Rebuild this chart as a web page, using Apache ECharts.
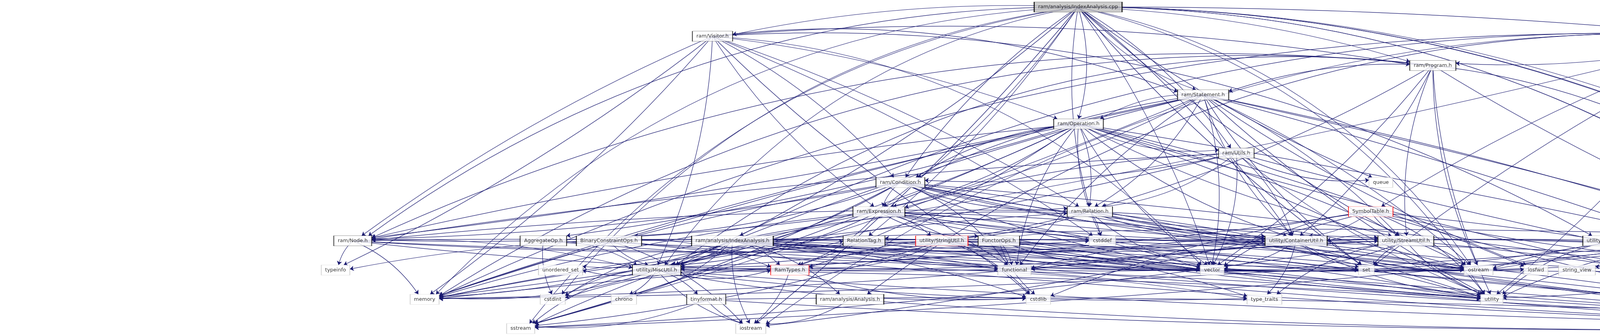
<!DOCTYPE html>
<html>
<head>
<meta charset="utf-8">
<script src="https://cdn.jsdelivr.net/npm/echarts/dist/echarts.min.js"></script>
<style>
html, body { margin: 0; padding: 0; background: #fff; }
#main { width: 5669px; height: 859px; }
</style>
</head>
<body>
<div id="main"></div>
<script>
// include graph of ram/analysis/IndexAnalysis.cpp
var nodeNames = [
  'ram/analysis/IndexAnalysis.cpp',
  'ram/Visitor.h', 'ram/TranslationUnit.h',
  'ram/Program.h',
  'ram/Statement.h',
  'ram/Operation.h',
  'ram/Utils.h',
  'ram/Condition.h', 'queue',
  'ram/Expression.h', 'ram/Relation.h', 'SymbolTable.h',
  'ram/Node.h', 'AggregateOp.h', 'BinaryConstraintOps.h', 'ram/analysis/IndexAnalysis.h', 'RelationTag.h',
  'utility/StringUtil.h', 'FunctorOps.h', 'cstddef', 'utility/ContainerUtil.h', 'utility/StreamUtil.h',
  'utility/FunctionalUtil.h', 'DebugReport.h', 'Global.h',
  'typeinfo', 'unordered_set', 'utility/MiscUtil.h', 'RamTypes.h', 'functional', 'vector', 'set',
  'ostream', 'iosfwd', 'string_view', 'map', 'iterator',
  'memory', 'cstdint', 'chrono', 'tinyformat.h', 'ram/analysis/Analysis.h', 'cstdlib', 'type_traits', 'utility',
  'sstream', 'iostream', 'string', 'algorithm'
];
// layer (row) of each node, top = 0
var nodeRank = [
  0,
  1, 1,
  2,
  3,
  4,
  5,
  6, 6,
  7, 7, 7,
  8, 8, 8, 8, 8,
  8, 8, 8, 8, 8,
  8, 8, 8,
  9, 9, 9, 9, 9, 9, 9,
  9, 9, 9, 9, 9,
  10, 10, 10, 10, 10, 10, 10, 10,
  11, 11, 11, 11
];
// column (centre) of each node
var nodeCol = [
  2760,
  1824, 4456,
  3668,
  3080,
  2761,
  3165,
  2305, 3535,
  2250, 2790, 3509,
  903, 1391, 1559, 1875, 2212,
  2411, 2557, 2822, 3318, 3599,
  4133, 4401, 4929,
  859, 1435, 1681, 2022, 2597, 3103, 3498,
  3785, 3932, 4037, 4745, 5033,
  1087, 1415, 1597, 1808, 2176, 2658, 3237, 3819,
  1333, 1922, 4910, 5310
];
// root, user header, truncated header (red), system header
var nodeKind = [
  'root',
  'user', 'user',
  'user',
  'user',
  'user',
  'user',
  'user', 'sys',
  'user', 'user', 'trunc',
  'user', 'user', 'user', 'user', 'user',
  'trunc', 'user', 'sys', 'user', 'user',
  'user', 'trunc', 'user',
  'sys', 'sys', 'user', 'trunc', 'sys', 'sys', 'sys',
  'sys', 'sys', 'sys', 'sys', 'sys',
  'sys', 'sys', 'sys', 'user', 'user', 'sys', 'sys', 'sys',
  'sys', 'sys', 'sys', 'sys'
];

var includes = [
  ['ram/analysis/IndexAnalysis.cpp', ['ram/analysis/IndexAnalysis.h', 'ram/Visitor.h', 'ram/Program.h', 'ram/Statement.h', 'ram/Operation.h', 'ram/TranslationUnit.h', 'ram/Utils.h', 'ram/Condition.h', 'ram/Expression.h', 'ram/Relation.h', 'ram/Node.h', 'Global.h', 'RelationTag.h', 'utility/StreamUtil.h', 'utility/ContainerUtil.h', 'queue', 'algorithm', 'cstdint', 'iostream', 'iterator', 'utility', 'set', 'map', 'string', 'vector', 'memory', 'sstream', 'ostream', 'utility/MiscUtil.h']],
  ['ram/Visitor.h', ['ram/Node.h', 'ram/Condition.h', 'ram/Expression.h', 'ram/Operation.h', 'ram/Program.h', 'ram/Relation.h', 'ram/Statement.h', 'utility/MiscUtil.h', 'utility/FunctionalUtil.h', 'cstddef', 'functional', 'typeinfo', 'vector', 'memory']],
  ['ram/TranslationUnit.h', ['ram/Program.h', 'DebugReport.h', 'Global.h', 'SymbolTable.h', 'ram/analysis/Analysis.h', 'utility/MiscUtil.h', 'map', 'memory', 'string', 'iostream', 'utility', 'set', 'algorithm']],
  ['ram/Program.h', ['ram/Node.h', 'ram/Relation.h', 'ram/Statement.h', 'utility/ContainerUtil.h', 'utility/StreamUtil.h', 'utility/MiscUtil.h', 'map', 'memory', 'ostream', 'string', 'utility', 'vector']],
  ['ram/Statement.h', ['ram/Node.h', 'ram/Operation.h', 'ram/Relation.h', 'ram/Condition.h', 'ram/Expression.h', 'utility/ContainerUtil.h', 'utility/StreamUtil.h', 'utility/MiscUtil.h', 'algorithm', 'iosfwd', 'map', 'memory', 'ostream', 'set', 'string', 'utility', 'vector', 'functional', 'sstream']],
  ['ram/Operation.h', ['ram/Condition.h', 'ram/Expression.h', 'ram/Node.h', 'ram/Relation.h', 'ram/Utils.h', 'AggregateOp.h', 'utility/ContainerUtil.h', 'utility/MiscUtil.h', 'utility/StreamUtil.h', 'RamTypes.h', 'functional', 'iosfwd', 'memory', 'ostream', 'string', 'utility', 'vector', 'algorithm', 'cstddef', 'sstream']],
  ['ram/Utils.h', ['ram/Condition.h', 'ram/Expression.h', 'ram/Relation.h', 'ram/Node.h', 'utility/ContainerUtil.h', 'queue', 'memory', 'utility', 'vector', 'algorithm']],
  ['ram/Condition.h', ['ram/Expression.h', 'ram/Node.h', 'ram/Relation.h', 'BinaryConstraintOps.h', 'utility/ContainerUtil.h', 'utility/MiscUtil.h', 'utility/StreamUtil.h', 'functional', 'memory', 'sstream', 'string', 'utility', 'vector', 'algorithm', 'ostream']],
  ['ram/Expression.h', ['ram/Node.h', 'FunctorOps.h', 'RamTypes.h', 'utility/ContainerUtil.h', 'utility/MiscUtil.h', 'utility/StreamUtil.h', 'utility/StringUtil.h', 'algorithm', 'cstdlib', 'memory', 'ostream', 'sstream', 'string', 'utility', 'vector']],
  ['ram/Relation.h', ['ram/Node.h', 'RelationTag.h', 'utility/ContainerUtil.h', 'utility/MiscUtil.h', 'utility/StreamUtil.h', 'cstddef', 'memory', 'ostream', 'string', 'utility', 'vector']],
  ['SymbolTable.h', ['utility/ContainerUtil.h', 'utility/StreamUtil.h', 'utility/MiscUtil.h', 'cstdlib', 'iostream', 'string', 'utility', 'vector', 'algorithm', 'map']],
  ['ram/Node.h', ['utility/ContainerUtil.h', 'utility/MiscUtil.h', 'functional', 'memory', 'typeinfo', 'vector', 'cstddef']],
  ['ram/analysis/IndexAnalysis.h', ['Global.h', 'RelationTag.h', 'ram/Relation.h', 'ram/TranslationUnit.h', 'ram/analysis/Analysis.h', 'utility/ContainerUtil.h', 'utility/MiscUtil.h', 'utility/StreamUtil.h', 'RamTypes.h', 'algorithm', 'chrono', 'cstdint', 'cstdlib', 'iostream', 'iterator', 'map', 'memory', 'ostream', 'set', 'string', 'utility', 'vector', 'unordered_set', 'typeinfo']],
  ['AggregateOp.h', ['cstdint', 'utility/MiscUtil.h', 'ostream', 'string']],
  ['BinaryConstraintOps.h', ['RamTypes.h', 'utility/MiscUtil.h', 'iostream', 'string', 'vector', 'ostream', 'functional']],
  ['RelationTag.h', ['utility/MiscUtil.h', 'ostream', 'set', 'string']],
  ['utility/StringUtil.h', ['RamTypes.h', 'algorithm', 'cstdlib', 'set', 'sstream', 'string', 'type_traits', 'vector', 'utility', 'memory']],
  ['FunctorOps.h', ['RamTypes.h', 'functional', 'cstdlib', 'cstddef', 'iosfwd', 'string', 'vector', 'ostream']],
  ['utility/ContainerUtil.h', ['utility/MiscUtil.h', 'functional', 'iterator', 'map', 'memory', 'set', 'type_traits', 'utility', 'vector']],
  ['utility/StreamUtil.h', ['utility/ContainerUtil.h', 'map', 'memory', 'ostream', 'set', 'string', 'utility', 'vector', 'type_traits', 'sstream']],
  ['utility/FunctionalUtil.h', ['algorithm', 'functional', 'string', 'utility', 'vector']],
  ['DebugReport.h', ['utility', 'sstream', 'string', 'vector', 'map', 'memory', 'ostream', 'string_view']],
  ['Global.h', ['map', 'string', 'utility', 'ostream', 'vector']],
  ['utility/MiscUtil.h', ['RamTypes.h', 'tinyformat.h', 'algorithm', 'chrono', 'iostream', 'memory', 'type_traits', 'utility', 'cstdlib', 'string', 'sstream', 'unordered_set', 'cstdint']],
  ['RamTypes.h', ['iostream', 'cstdint', 'type_traits', 'cstdlib']],
  ['tinyformat.h', ['iostream', 'sstream', 'string', 'algorithm']],
  ['ram/analysis/Analysis.h', ['iostream', 'string']]
];

var ROW_H = 74.73;      // px between layers
var TOP = 18;           // px centre of first layer
var BOX_H = 26;
var FONT = '13px "DejaVu Sans"';

var ctx = document.createElement('canvas').getContext('2d');
ctx.font = FONT;
function boxWidth(name) {
  return Math.round(ctx.measureText(name).width + 20);
}

var kindStyle = {
  root: { color: '#bfbfbf', borderColor: '#000000' },
  user: { color: '#ffffff', borderColor: '#000000' },
  trunc: { color: '#ffffff', borderColor: '#ff0000' },
  sys: { color: '#ffffff', borderColor: '#bfbfbf' }
};

var index = {};
var nodeData = nodeNames.map(function (n, i) {
  index[n] = i;
  var st = kindStyle[nodeKind[i]];
  return {
    name: n,
    value: [nodeCol[i], nodeRank[i]],
    symbolSize: [boxWidth(n), BOX_H],
    itemStyle: { color: st.color, borderColor: st.borderColor, borderWidth: 1 }
  };
});

// clip the end of a segment to the box of its target node (data units)
function clip(from, to, hw, hh) {
  var dx = from[0] - to[0], dy = from[1] - to[1];
  var tx = dx !== 0 ? hw / Math.abs(dx) : Infinity;
  var ty = dy !== 0 ? hh / Math.abs(dy) : Infinity;
  var t = Math.min(tx, ty, 1);
  return [to[0] + dx * t, to[1] + dy * t];
}

var hh = (BOX_H / 2) / ROW_H;
var edgeData = [];
includes.forEach(function (inc, k) {
  var a = index[inc[0]];
  inc[1].forEach(function (tn, j) {
    var b = index[tn];
    var p1 = [nodeCol[a], nodeRank[a]];
    var p2 = [nodeCol[b], nodeRank[b]];
    var end = clip(p1, p2, boxWidth(nodeNames[b]) / 2, hh);
    var dxPx = p2[0] - p1[0];
    var dyPx = (p2[1] - p1[1]) * ROW_H;
    var lenPx = Math.sqrt(dxPx * dxPx + dyPx * dyPx);
    var curv;
    if (nodeRank[a] <= 2 && lenPx > 1200) {
      // long edges from the top layers bow outward, kept inside the top margin
      var midY = TOP + (p1[1] + p2[1]) / 2 * ROW_H;
      var m = Math.min(0.2, Math.max(0, (midY - 14) / Math.abs(dxPx)));
      curv = (dxPx < 0 ? -1 : 1) * m;
    } else {
      curv = (((k + j) % 2 === 0) ? 1 : -1) * Math.min(0.15, 60 / Math.max(lenPx, 1));
    }
    edgeData.push({
      coords: [p1, end],
      lineStyle: { curveness: curv }
    });
  });
});

var yMin = -TOP / ROW_H;
var yMax = yMin + 859 / ROW_H;

var myChart = echarts.init(document.getElementById('main'));
var option = {
  animation: false,
  backgroundColor: '#ffffff',
  grid: { left: 0, right: 0, top: 0, bottom: 0 },
  xAxis: { type: 'value', min: 0, max: 5669, show: false },
  yAxis: { type: 'value', min: yMin, max: yMax, inverse: true, show: false },
  series: [
    {
      type: 'lines',
      coordinateSystem: 'cartesian2d',
      z: 1,
      silent: true,
      symbol: ['none', 'arrow'],
      symbolSize: 10,
      lineStyle: { color: '#191970', width: 1.2, opacity: 1 },
      data: edgeData
    },
    {
      type: 'scatter',
      z: 5,
      silent: true,
      symbol: 'rect',
      clip: false,
      label: {
        show: true,
        position: 'inside',
        formatter: '{b}',
        color: '#000000',
        fontSize: 13,
        fontFamily: 'DejaVu Sans'
      },
      data: nodeData
    }
  ]
};
myChart.setOption(option);
window.onresize = function () {
  myChart.resize();
};
</script>
</body>
</html>
